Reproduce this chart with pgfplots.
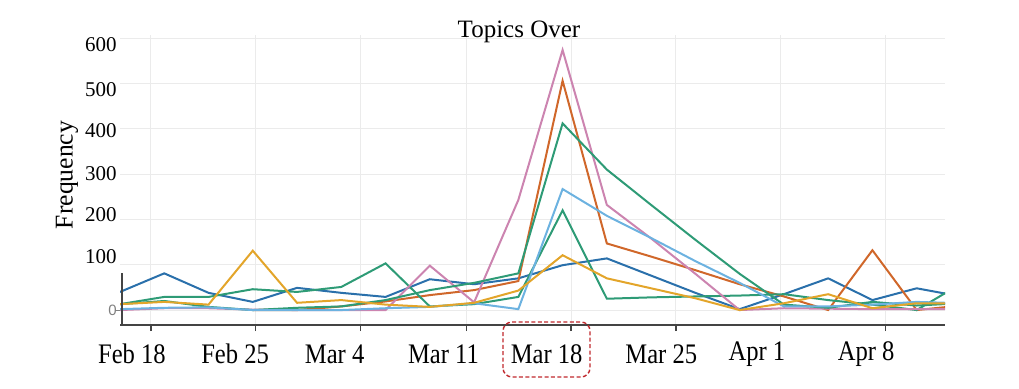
\documentclass[border=0pt]{standalone}
\usepackage{pgfplots}
\pgfplotsset{compat=1.18}
\usepackage{fontspec}
\usepackage{graphicx}
\setmainfont{Liberation Serif}
\newfontfamily\zerofont{Liberation Sans}
\definecolor{cBlue}{HTML}{2A70AB}
\definecolor{cOrange}{HTML}{D0672A}
\definecolor{cPink}{HTML}{CC84B0}
\definecolor{cLight}{HTML}{6CB2E0}
\definecolor{cYellow}{HTML}{E3A52A}
\definecolor{cGreen}{HTML}{2E9B76}
\definecolor{boxred}{HTML}{C0282D}
\definecolor{gridc}{HTML}{EBEBEB}
\definecolor{axisc}{HTML}{444444}
\begin{document}
\begin{tikzpicture}[x=1pt,y=1pt]
\path (0,0) rectangle (509.5,194);
\begin{axis}[
  at={(60pt,31.5pt)}, anchor=south west,
  scale only axis, width=412.5pt, height=145pt,
  xmin=0, xmax=18.64, ymin=-33, ymax=607,
  axis line style={draw=none},
  grid=major,
  major grid style={color=gridc, line width=0.5pt},
  tick align=outside,
  xtick pos=bottom,
  xtick={0.70,3.07,5.44,7.82,10.19,12.56,14.93,17.30},
  xticklabels={},
  xtick style={draw=axisc, line width=0.6pt},
  major tick length=3pt,
  extra x ticks={0.27,2.60,4.85,7.31,9.64,12.23,14.39,16.86},
  extra x tick labels={\scalebox{1}[1.15]{Feb 18},\scalebox{1}[1.15]{Feb 25},\scalebox{1}[1.15]{Mar 4},\scalebox{1}[1.15]{Mar 11},\scalebox{1}[1.15]{Mar 18},\scalebox{1}[1.15]{Mar 25},\scalebox{1}[1.15]{Apr 1},\scalebox{1}[1.15]{Apr 8}},
  extra x tick style={grid=none, major tick length=0pt, tick style={draw=none},
    xticklabel style={anchor=center, yshift=-14.5pt, font=\fontsize{12.3}{13}\selectfont}},
  ytick={0,100,200,300,400,500,600},
  yticklabels={},
  ytick style={draw=none},
  extra y ticks={0,117,210,300,397,486,585},
  extra y tick labels={{\zerofont\fontsize{7.5}{8}\selectfont\color{gray}0\hspace{4.5pt}},100,200,300,400,500,600},
  extra y tick style={grid=none, major tick length=0pt, tick style={draw=none},
    yticklabel style={anchor=east, inner sep=0pt, xshift=-1.5pt, font=\fontsize{10.5}{12}\selectfont}},
  every axis plot/.append style={line width=1pt, no markers},
]
\addplot[cBlue] coordinates {(0,40)(1,81)(2,38)(3,18)(4,49)(5,38)(6,29)(7,68)(8,57)(9,70)(10,99)(11,114)(12,76)(13,38)(14,2)(15,35)(16,70)(17,22)(18,48)(19,30)};
\addplot[cOrange] coordinates {(3,0)(4,0)(5,8)(6,19)(7,33)(8,44)(9,64)(10,506)(11,147)(12,118)(13,88)(14,57)(15,30)(16,0)(17,132)(18,0)(19,10)};
\addplot[cGreen] coordinates {(0,13)(1,29)(2,29)(3,46)(4,40)(5,51)(6,103)(7,8)(8,13)(9,29)(10,220)(11,25)(12,28)(13,30)(14,32)(15,35)(16,22)(17,12)(18,0)(19,58)};
\addplot[cPink] coordinates {(0,0)(1,4)(2,4)(3,1)(4,0)(5,0)(6,0)(7,98)(8,17)(9,243)(10,574)(11,232)(12,158)(13,80)(14,0)(15,4)(16,3)(17,2)(18,2)(19,2)};
\addplot[cGreen] coordinates {(0,13)(1,20)(2,7)(3,0)(4,5)(5,8)(6,22)(7,44)(8,60)(9,81)(10,412)(11,310)(12,232)(13,155)(14,80)(15,12)(16,5)(17,18)(18,10)(19,15)};
\addplot[cLight] coordinates {(0,2)(1,5)(2,6)(3,0)(4,0)(5,0)(6,4)(7,7)(8,15)(9,2)(10,267)(11,208)(12,159)(13,108)(14,60)(15,8)(16,8)(17,12)(18,18)(19,15)};
\addplot[cYellow] coordinates {(0,13)(1,18)(2,12)(3,131)(4,16)(5,22)(6,12)(7,7)(8,16)(9,43)(10,121)(11,70)(12,48)(13,26)(14,0)(15,15)(16,35)(17,4)(18,15)(19,15)};
\end{axis}
\draw[axisc, line width=0.75pt] (60,31.5) -- (472.5,31.5);
\draw[axisc, line width=0.75pt] (61,31.5) -- (61,57.5);
\draw[gray, line width=0.5pt] (57.3,39) -- (60,39);
\node at (259.5,178) {\fontsize{12.5}{14}\selectfont Topics Over};
\node[rotate=90] at (33.5,106.5) {\fontsize{12.8}{14}\selectfont Frequency};
\draw[boxred, dash pattern=on 2pt off 1.2pt, line width=0.7pt, rounded corners=4.5pt] (251.5,5.5) rectangle (295,33);
\end{tikzpicture}
\end{document}
